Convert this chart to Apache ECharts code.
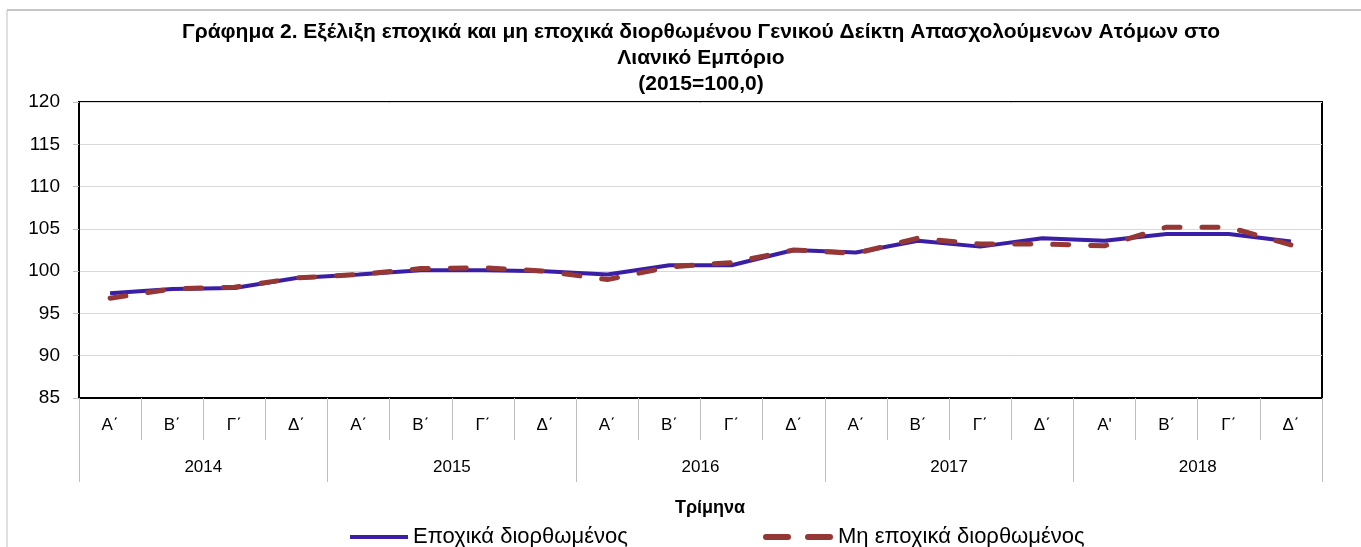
<!DOCTYPE html>
<html>
<head>
<meta charset="utf-8">
<script src="https://cdn.jsdelivr.net/npm/echarts@6/dist/echarts.min.js"></script>
<style>
html,body{margin:0;padding:0;background:#fff;}
#chart{width:1361px;height:547px;}
</style>
</head>
<body>
<div id="chart"></div>
<script>
const quarters = ['Α΄','Β΄','Γ΄','Δ΄','Α΄','Β΄','Γ΄','Δ΄','Α΄','Β΄','Γ΄','Δ΄','Α΄','Β΄','Γ΄','Δ΄',"Α'",'Β΄','Γ΄','Δ΄'];
const years = ['2014','2015','2016','2017','2018'];
const seasonallyAdjusted = [97.4, 97.9, 98.0, 99.2, 99.6, 100.1, 100.1, 100.0, 99.6, 100.7, 100.7, 102.5, 102.2, 103.6, 102.9, 103.9, 103.6, 104.4, 104.4, 103.5];
const notAdjusted = [96.8, 97.9, 98.1, 99.2, 99.6, 100.3, 100.4, 100.0, 99.0, 100.5, 101.0, 102.5, 102.1, 103.9, 103.2, 103.2, 103.0, 105.2, 105.2, 103.1];
const yTicks = {min: 85, max: 120, interval: 5};
const seriesNames = ['Εποχικά διορθωμένος', 'Μη εποχικά διορθωμένος'];
const titleText = 'Γράφημα 2. Εξέλιξη εποχικά και μη εποχικά διορθωμένου Γενικού Δείκτη Απασχολούμενων Ατόμων στο\nΛιανικό Εμπόριο\n(2015=100,0)';
const xName = 'Τρίμηνα';

const FONT = '"Liberation Sans", Arial, sans-serif';
const chart = echarts.init(document.getElementById('chart'));
chart.setOption({
  animation: false,
  backgroundColor: '#fff',
  textStyle: {fontFamily: FONT, color: '#000'},
  title: {
    text: titleText,
    left: 696, top: 14, textAlign: 'center',
    textStyle: {fontFamily: FONT, fontSize: 21, fontWeight: 'bold', color: '#000', lineHeight: 26}
  },
  legend: [
    {
      top: 521, left: 345,
      itemWidth: 58, itemHeight: 14, itemGap: 10,
      textStyle: {fontFamily: FONT, fontSize: 22, color: '#000'},
      data: [{name: seriesNames[0], icon: 'path://M0,0 L58,0 L58,4 L0,4 Z'}]
    },
    {
      top: 521, left: 758,
      itemWidth: 70, itemHeight: 14, itemGap: 10,
      textStyle: {fontFamily: FONT, fontSize: 22, color: '#000'},
      data: [{name: seriesNames[1], icon: 'path://M3,0 L25,0 A3,3 0 0 1 25,6 L3,6 A3,3 0 0 1 3,0 Z M45,0 L67,0 A3,3 0 0 1 67,6 L45,6 A3,3 0 0 1 45,0 Z'}]
    }
  ],
  grid: {left: 79, right: 39, top: 102, bottom: 149, show: true, borderColor: '#000', borderWidth: 2},
  xAxis: [
    {
      type: 'category', data: quarters, position: 'bottom',
      axisLine: {show: true, lineStyle: {color: '#000', width: 2}},
      axisTick: {show: true, interval: 0, length: 42, lineStyle: {color: '#bfbfbf', width: 1}},
      axisLabel: {interval: 0, margin: 19, fontSize: 17, color: '#000', fontFamily: FONT}
    },
    {
      type: 'category', data: years, position: 'bottom', gridIndex: 0,
      axisLine: {show: false},
      axisTick: {show: true, interval: 0, length: 84, lineStyle: {color: '#bfbfbf', width: 1}},
      axisLabel: {interval: 0, margin: 61, fontSize: 17, color: '#000', fontFamily: FONT}
    }
  ],
  yAxis: {
    type: 'value', min: yTicks.min, max: yTicks.max, interval: yTicks.interval,
    axisLine: {show: true, lineStyle: {color: '#000', width: 2}},
    axisTick: {show: true, length: 6, lineStyle: {color: '#bfbfbf'}},
    splitLine: {lineStyle: {color: '#d9d9d9', width: 1}},
    axisLabel: {fontSize: 19, color: '#000', margin: 19, fontFamily: FONT}
  },
  graphic: [
    {type: 'line', shape: {x1: 7, y1: 10, x2: 1361, y2: 10}, style: {stroke: '#8c8c8c', lineWidth: 1}},
    {type: 'line', shape: {x1: 7, y1: 10, x2: 7, y2: 547}, style: {stroke: '#bfbfbf', lineWidth: 1}},
    {type: 'text', x: 710, y: 508, style: {text: xName, font: 'bold 18px ' + FONT, fill: '#000', align: 'center', verticalAlign: 'middle'}}
  ],
  series: [
    {
      name: seriesNames[0], type: 'line', data: seasonallyAdjusted, xAxisIndex: 0,
      symbol: 'none', lineStyle: {color: '#3a1fa6', width: 4},
      itemStyle: {color: '#3a1fa6'}, z: 2
    },
    {
      name: seriesNames[1], type: 'line', data: notAdjusted, xAxisIndex: 0,
      symbol: 'none', lineStyle: {color: '#953735', width: 5, type: [16, 22], cap: 'round'},
      itemStyle: {color: '#953735'}, z: 3
    }
  ]
});
</script>
</body>
</html>
